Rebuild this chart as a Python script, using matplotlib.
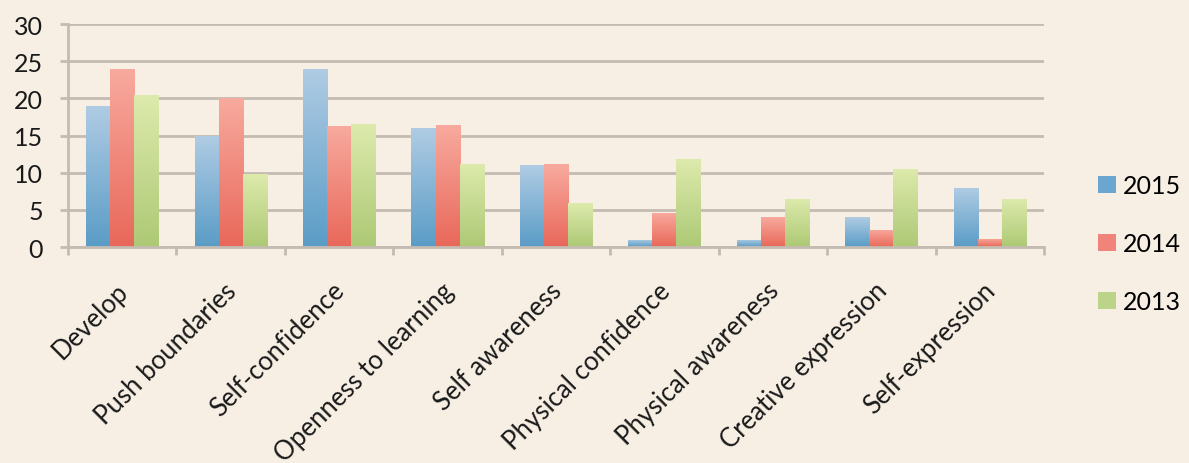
import matplotlib
matplotlib.use("Agg")
import matplotlib.pyplot as plt
import numpy as np
from matplotlib.colors import to_rgb
from matplotlib.patches import Patch
from matplotlib.transforms import ScaledTranslation

categories = ["Develop", "Push boundaries", "Self-confidence", "Openness to learning",
              "Self awareness", "Physical confidence", "Physical awareness",
              "Creative expression", "Self-expression"]
series_names = ["2015", "2014", "2013"]
v2015 = [19, 15, 24, 16, 11, 1, 1, 4, 8]
v2014 = [24, 20, 16.3, 16.4, 11.1, 4.6, 4, 2.3, 1.1]
v2013 = [20.4, 9.8, 16.5, 11.2, 5.9, 11.8, 6.5, 10.5, 6.5]
yticks = [0, 5, 10, 15, 20, 25, 30]

bg = "#f7efe4"
grads = [("#5a9cc6", "#b0cce4"), ("#e8685a", "#f8aa9e"), ("#adc975", "#ddeaac")]
legend_cols = ["#6aa6cf", "#f0837a", "#bcd48a"]

plt.rcParams['font.family'] = ['Lato', 'DejaVu Sans']
fig = plt.figure(figsize=(11.89, 4.64), dpi=100, facecolor=bg)
ax = fig.add_axes([0.0572, 0.4655, 0.8208, 0.4806])
ax.set_facecolor(bg)
ax.set_axisbelow(True)

x = np.arange(len(categories))
w = 0.222
grid_c = "#c4bcb2"
for i, (vals, (c0, c1)) in enumerate(zip([v2015, v2014, v2013], grads)):
    bars = ax.bar(x + (i - 1) * w, vals, width=w, color="none", edgecolor="none", zorder=2)
    grad = np.linspace(0, 1, 256)[:, None, None]
    img = (1 - grad) * np.array(to_rgb(c0)) + grad * np.array(to_rgb(c1))
    for b in bars:
        x0, y0 = b.get_x(), b.get_y()
        im = ax.imshow(img, extent=[x0, x0 + b.get_width(), y0, y0 + b.get_height()],
                       origin="lower", aspect="auto", zorder=2, interpolation="bilinear")
        im.set_clip_path(b)

ax.set_xlim(-0.5, len(categories) - 0.5)
ax.set_ylim(0, 30)
ax.set_yticks(yticks)
ax.set_yticklabels([str(t) for t in yticks], fontsize=18, color="#1a1a1a")
ax.yaxis.grid(True, color=grid_c, linewidth=2)
for s in ["top", "right"]:
    ax.spines[s].set_visible(False)
for s in ["left", "bottom"]:
    ax.spines[s].set_color(grid_c)
    ax.spines[s].set_linewidth(2)
ax.tick_params(axis="y", length=6, width=2, color=grid_c, pad=12)
ax.set_xticks(np.arange(-0.5, len(categories), 1.0))
ax.set_xticklabels([])
ax.tick_params(axis="x", which="major", length=6, width=2, color=grid_c)
ax.set_xticks(x, minor=True)
ax.set_xticklabels(categories, minor=True, rotation=45, ha="right", va="top",
                   rotation_mode="anchor", fontsize=18.5, color="#1a1a1a")
ax.tick_params(axis="x", which="minor", length=0, pad=22)
off = ScaledTranslation(-7 / 100, 0, fig.dpi_scale_trans)
for lbl in ax.get_xticklabels(minor=True):
    lbl.set_transform(lbl.get_transform() + off)

handles = [Patch(facecolor=c, edgecolor="none") for c in legend_cols]
fig.legend(handles, series_names, loc="center left", bbox_to_anchor=(1098 / 1189, 0.472),
           frameon=False, fontsize=18, handlelength=0.7, handleheight=0.7,
           handletextpad=0.3, labelspacing=1.4, borderpad=0, borderaxespad=0)

fig.savefig("out.png", dpi=100, facecolor=bg)
